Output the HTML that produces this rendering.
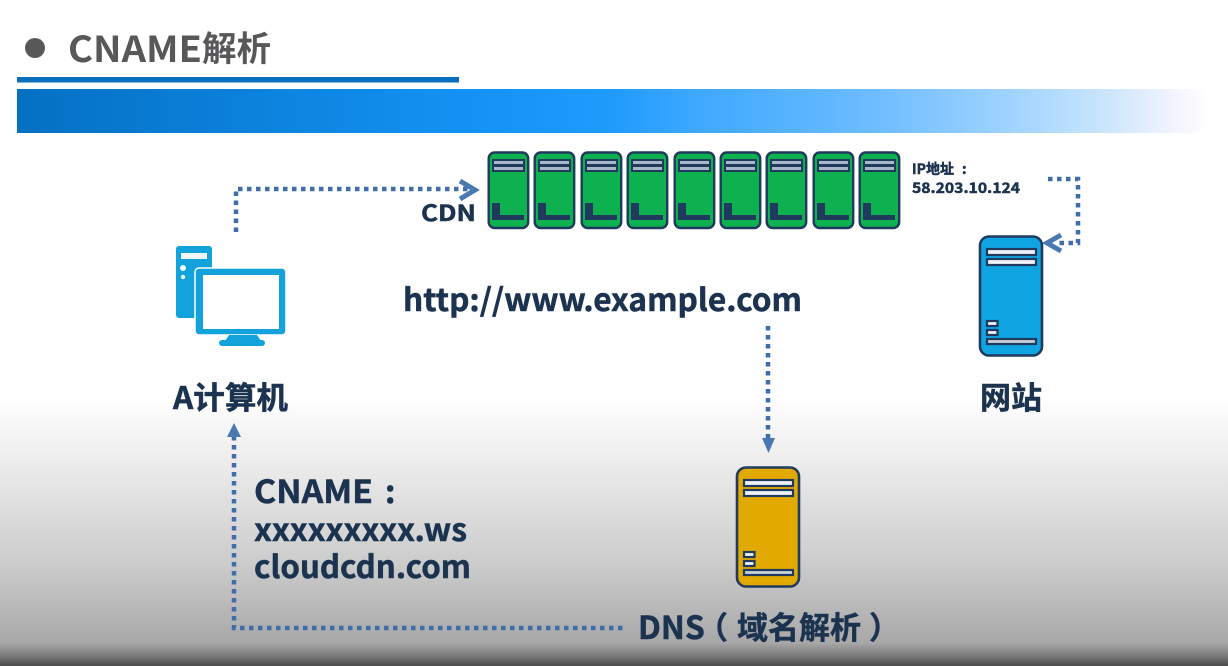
<!DOCTYPE html>
<html><head><meta charset="utf-8"><style>
html,body{margin:0;padding:0;background:#fff}
svg{display:block}
text{font-family:"Noto Sans CJK SC","Liberation Sans",sans-serif;font-weight:700}
.n{fill:#1c3350;stroke:#1c3350;stroke-width:.5}
</style></head><body>
<svg width="1228" height="666" viewBox="0 0 1228 666" xmlns="http://www.w3.org/2000/svg">
<defs>
<linearGradient id="bg" x1="0" y1="0" x2="0" y2="1">
<stop offset="0" stop-color="#fff"/><stop offset="0.6" stop-color="#fefefe"/><stop offset="0.7" stop-color="#ebebeb"/><stop offset="0.85" stop-color="#cbcbcb"/><stop offset="0.965" stop-color="#a8a8a8"/><stop offset="0.985" stop-color="#7a7a7a"/><stop offset="1" stop-color="#4a4a4a"/>
</linearGradient>
<linearGradient id="bar" x1="0" y1="0" x2="1" y2="0">
<stop offset="0" stop-color="#0470c2"/><stop offset="0.39" stop-color="#1493f5"/><stop offset="0.5" stop-color="#1f9bfc"/><stop offset="0.574" stop-color="#3fa9ff"/><stop offset="0.717" stop-color="#6cbcff"/><stop offset="0.834" stop-color="#9fd3ff"/><stop offset="0.91" stop-color="#c8e4fc"/><stop offset="0.977" stop-color="#f5f5fe"/><stop offset="1" stop-color="#fff"/>
</linearGradient>
<g id="s">
<rect x="0.700" y="0.500" width="39.500" height="75.500" rx="6" fill="#0db14f" stroke="#1f3a5c" stroke-width="2.4"/>
<rect x="4" y="7" width="33" height="13" fill="#1f3a5c"/>
<rect x="6" y="9" width="29" height="3" fill="#a9b8c8"/>
<rect x="6" y="15" width="29" height="3" fill="#a9b8c8"/>
<rect x="4" y="51" width="8" height="17" fill="#1f3a5c"/>
<rect x="4" y="63" width="32" height="5" fill="#1f3a5c"/>
</g>
<g id="t">
<rect x="1" y="0.500" width="62" height="119" rx="9" stroke="#1f3a5c" stroke-width="2.6"/>
<g fill="#eef2f7" stroke="#1f3a5c" stroke-width="2.2">
<rect x="8" y="13" width="49" height="6"/>
<rect x="8" y="23" width="49" height="6"/>
<rect x="8" y="85" width="10.500" height="5"/>
<rect x="8" y="94" width="10.500" height="5"/>
<rect x="8" y="103" width="49" height="5" fill="#c8d0d8"/>
</g>
</g>
</defs>
<rect width="1228" height="666" fill="url(#bg)"/>
<circle cx="35" cy="48" r="10" fill="#58585a"/>
<text x="68" y="62" font-size="36" fill="#58585a" textLength="134" lengthAdjust="spacingAndGlyphs">CNAME</text>
<text x="202" y="61" font-size="34.500" fill="#58585a">解析</text>
<rect x="17" y="77" width="442" height="5.5" fill="#0a6fbe"/>
<rect x="17" y="89" width="1190" height="44" fill="url(#bar)"/>

<g>
<use href="#s" x="488" y="152"/><use href="#s" x="534" y="152"/><use href="#s" x="581" y="152"/><use href="#s" x="627" y="152"/><use href="#s" x="674" y="152"/><use href="#s" x="720" y="152"/><use href="#s" x="766" y="152"/><use href="#s" x="813" y="152"/><use href="#s" x="859" y="152"/>
</g>
<text class="n" x="421" y="221" font-size="22.500" textLength="55" lengthAdjust="spacingAndGlyphs">CDN</text>
<text class="n" x="912" y="174" font-size="14">IP地址</text>
<text class="n" x="962" y="174" font-size="14">:</text>
<text class="n" x="912" y="193" font-size="14.500" textLength="108" lengthAdjust="spacingAndGlyphs">58.203.10.124</text>

<!-- connectors -->
<g fill="none" stroke="#3f6ea8" stroke-width="4.500" stroke-dasharray="4.500 4.500">
<path d="M236 232V189H468"/>
<path d="M1048 179H1078V243H1058"/>
<path d="M768 326V438"/>
<path d="M234 436V628H625"/>
</g>
<path d="M460 181L475 190L460 199" fill="none" stroke="#4a78b0" stroke-width="5"/>
<path d="M1061 235L1047 243L1061 251" fill="none" stroke="#4a78b0" stroke-width="5"/>
<path d="M762 438H775L768.500 453Z" fill="#4a78b0"/>
<path d="M227 437H241L234 423Z" fill="#4a78b0"/>

<!-- computer -->
<rect x="176" y="246" width="36" height="72" rx="3" fill="#12a3dc"/>
<rect x="181" y="253" width="26" height="6" fill="#eef7fb"/>
<circle cx="183" cy="268" r="3" fill="#eef7fb"/><circle cx="183" cy="277" r="2.200" fill="#eef7fb"/>
<rect x="195" y="268" width="91" height="67" rx="4" fill="#12a3dc" stroke="#fff" stroke-width="1.500"/>
<rect x="203" y="275" width="76" height="54" fill="#fff"/>
<path d="M229 335H257L261 341H225Z" fill="#12a3dc"/>
<rect x="219" y="340" width="46" height="6" rx="3" fill="#12a3dc"/>
<text class="n" x="173" y="409" font-size="31" textLength="115" lengthAdjust="spacingAndGlyphs">A计算机</text>

<text class="n" x="403" y="311" font-size="31" textLength="399" lengthAdjust="spacingAndGlyphs">http://www.example.com</text>

<use href="#t" x="979" y="236" fill="#0fa5e3"/>
<text class="n" x="980" y="409" font-size="31">网站</text>

<use href="#t" x="736" y="467" fill="#e2a900"/>

<text class="n" x="254" y="503" font-size="32" textLength="119" lengthAdjust="spacingAndGlyphs">CNAME</text>
<text class="n" x="385" y="503" font-size="32">:</text>
<text class="n" x="254" y="541" font-size="31" textLength="213" lengthAdjust="spacingAndGlyphs">xxxxxxxxx.ws</text>
<text class="n" x="254" y="578" font-size="31" textLength="217" lengthAdjust="spacingAndGlyphs">cloudcdn.com</text>
<text class="n" x="638" y="639" font-size="32">DNS</text>
<text class="n" x="697" y="639" font-size="31">（</text>
<text class="n" x="737" y="639" font-size="31">域名解析</text>
<text class="n" x="869" y="639" font-size="31">）</text>
</svg>
</body></html>
